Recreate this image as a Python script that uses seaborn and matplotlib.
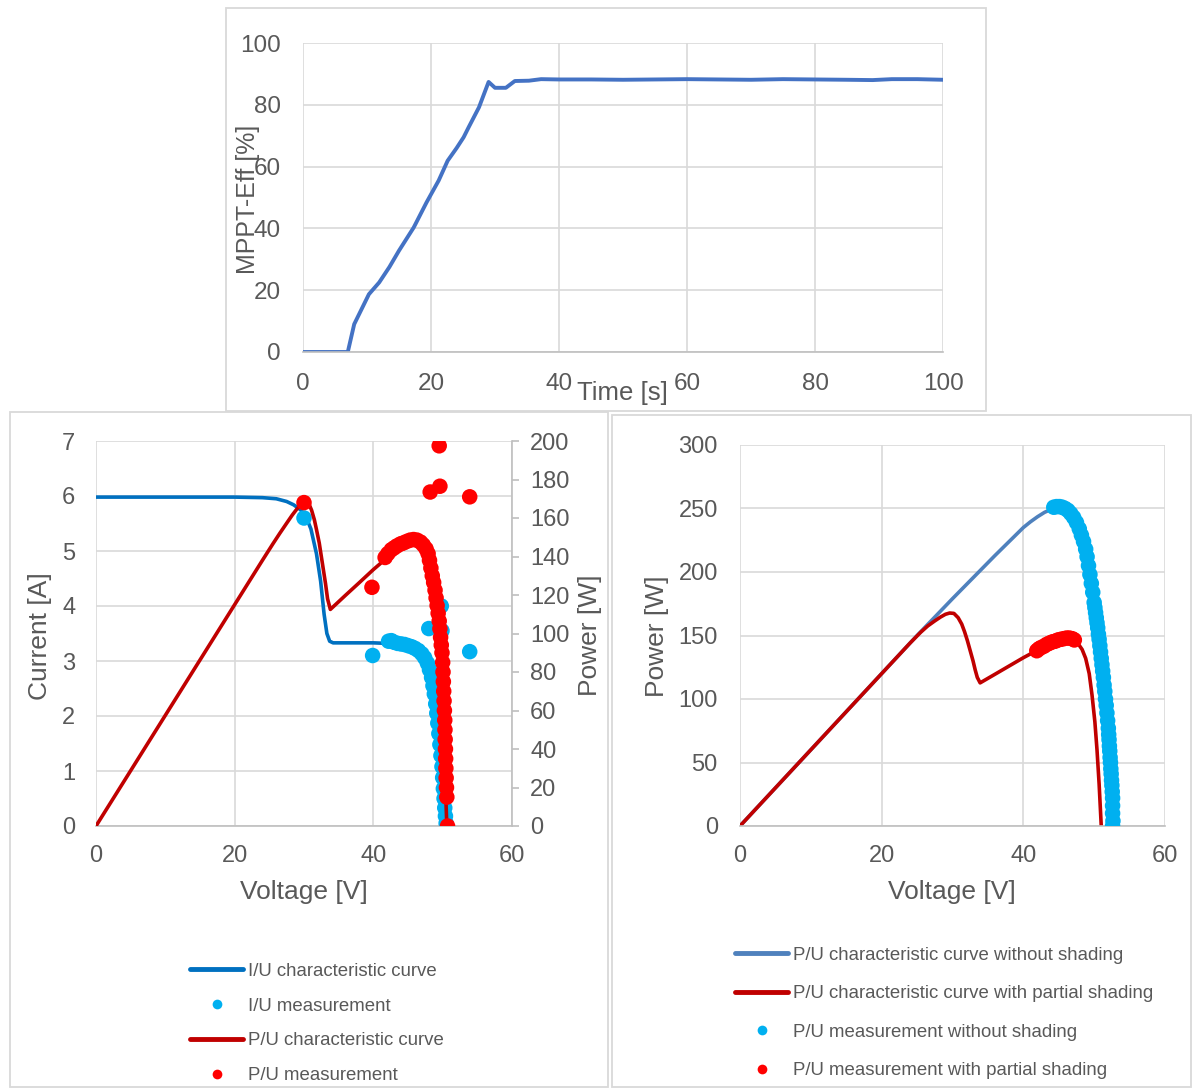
import matplotlib
matplotlib.use('Agg')
import matplotlib.pyplot as plt
from matplotlib.lines import Line2D
from matplotlib.patches import Rectangle
import seaborn as sns

# ---------------- data ----------------
# top: MPPT efficiency over time
time_s = [0, 7, 8, 10.3, 11.9, 13.5, 15, 17.3, 19.3, 21.2, 22.6, 24, 25.1, 25.9, 27.5,
          29, 30, 31.7, 33.1, 35.3, 37.2, 40, 45, 50, 55, 60, 65, 70, 75, 80, 85, 89, 92, 96, 100]
mppt_eff = [0, 0, 9, 18.7, 22.5, 27.5, 32.8, 40.3, 48.4, 55.5, 61.9, 66, 69.5, 72.8, 79.2,
            87.4, 85.5, 85.5, 87.7, 87.8, 88.3, 88.2, 88.2, 88.1, 88.2, 88.3, 88.2, 88.1, 88.3,
            88.2, 88.1, 88.0, 88.3, 88.3, 88.1]

# bottom left: I/U characteristic curve
iu_volt = [0, 10, 20, 24, 26, 27.5, 28.5, 29.5, 30.3, 31, 31.8, 32.4, 32.9, 33.3, 33.7, 34.2,
           36, 40, 42, 43, 44, 45, 46, 47, 47.7, 48.3, 48.8, 49.3, 49.7, 50.1, 50.4, 50.6]
iu_curr = [5.98, 5.98, 5.98, 5.97, 5.95, 5.9, 5.84, 5.75, 5.62, 5.4, 4.95, 4.45, 3.85, 3.5,
           3.36, 3.33, 3.33, 3.33, 3.32, 3.31, 3.29, 3.27, 3.23, 3.13, 2.98, 2.75, 2.45, 2.0,
           1.5, 0.9, 0.4, 0.0]

# bottom left: P/U characteristic curve (right axis)
pu_volt = [0, 10, 20, 24, 25.5, 26.5, 27.5, 28.3, 29, 29.6, 30.1, 30.6, 31.1, 31.5, 31.8,
           32.2, 32.5, 32.8, 33.1, 33.4, 33.8, 36, 38, 40, 42, 44, 45, 46, 47, 47.7, 48.3,
           48.8, 49.3, 49.7, 50.1, 50.4, 50.6]
pu_pow = [0, 57.5, 115, 138, 146.5, 152, 157.3, 161.5, 164.8, 167, 168.5, 168.3, 164,
          159, 154, 147, 140, 133, 126, 118, 112.5, 119.9, 126.5, 133.2, 139.4, 144.8, 147.1,
          148.6, 147.1, 142.1, 132.8, 119.6, 98.6, 74.6, 45.1, 20.2, 0]

# bottom left: I/U measurement
iu_meas_volt = [30.0, 39.9, 48.0, 49.8, 49.9, 53.9,
                42.2, 42.6, 43.0, 43.5, 44.0, 44.5, 45.0, 45.5, 46.0, 46.5, 47.0, 47.4, 47.8,
                48.1, 48.4, 48.6, 48.8, 49.0, 49.15, 49.3, 49.45, 49.6, 49.75, 49.9, 50.0, 50.1,
                50.2, 50.3, 50.4, 50.5]
iu_meas_curr = [5.6, 3.1, 3.59, 4.0, 3.55, 3.17,
                3.36, 3.37, 3.34, 3.32, 3.31, 3.3, 3.28, 3.26, 3.23, 3.19, 3.13, 3.06, 2.96,
                2.84, 2.7, 2.55, 2.4, 2.22, 2.05, 1.87, 1.68, 1.48, 1.28, 1.08, 0.88, 0.68,
                0.5, 0.33, 0.18, 0.05]

# bottom left: P/U measurement
pu_meas_volt = [30.0, 39.8, 48.2, 49.5, 49.6, 53.9,
                41.7, 42.1, 42.6, 43.0, 43.4, 43.9, 44.3, 44.8, 45.3, 45.8, 46.3, 46.8, 47.2,
                47.6, 47.9, 48.1, 48.3, 48.5, 48.7, 48.9, 49.05, 49.2, 49.35, 49.5, 49.6, 49.7,
                49.8, 49.9, 50.0, 50.05, 50.1, 50.15, 50.2, 50.25, 50.3, 50.33, 50.36, 50.4,
                50.43, 50.46, 50.5, 50.55, 50.6, 50.7]
pu_meas_pow = [168, 124, 173.5, 197.5, 176.5, 171,
               139.5, 141.5, 143.5, 144.5, 145.5, 146.5, 147, 147.8, 148.5, 148.8, 148.5,
               147.5, 146, 144, 141.5, 138, 134, 130, 126.5, 122.5, 118.5, 114.5, 110.5, 106.5,
               102.5, 98, 94, 90, 85, 80, 75, 70, 65, 60, 55, 50, 45, 40, 35, 30, 25, 20, 15, 0]

# bottom right: P/U curves
free_volt = [0, 10, 20, 25, 30, 33, 36, 38, 40, 41, 42, 43, 44, 44.5, 45.5, 46.5, 47.5, 48.5,
             49.5, 50.3, 51, 51.6, 52.1, 52.4, 52.5]
free_pow = [0, 60, 120, 150, 179, 196, 213, 224, 235, 239.5, 243.5, 247, 249.5, 250.5, 250,
            247, 240, 227, 207, 185, 150, 115, 75, 35, 0]
shade_volt = [0, 10, 20, 24, 25.5, 26.5, 27.5, 28.3, 29, 29.6, 30.2, 30.8, 31.3, 31.7, 32.1,
              32.5, 32.9, 33.2, 33.5, 33.9, 36, 38, 40, 42, 44, 45, 46, 46.8, 47.3, 47.8,
              48.3, 48.8, 49.3, 49.7, 50.1, 50.4, 50.7, 51]
shade_pow = [0, 60, 120, 144, 152.5, 157.5, 161.5, 164.5, 166.7, 167.7, 167.4, 164, 159,
             153, 146, 138, 130, 123, 117, 112.7, 119.5, 126, 132.5, 138.5, 143.5, 145.5,
             147, 147, 145.4, 143, 139, 132, 120, 103, 82, 60, 33, 0]

# bottom right: P/U measurements
free_meas_volt = [44.3, 44.7, 45.1, 45.5, 45.9, 46.3, 46.7, 47.1, 47.5, 47.9, 48.2, 48.5, 48.8,
                  49.0, 49.2, 49.4, 49.6, 49.8, 50.0, 50.1, 50.2, 50.3, 50.4, 50.5, 50.6, 50.7,
                  50.8, 50.9, 51.0, 51.1, 51.2, 51.3, 51.4, 51.5, 51.6, 51.7, 51.8, 51.9, 52.0,
                  52.05, 52.1, 52.15, 52.2, 52.25, 52.3, 52.35, 52.4, 52.45, 52.5, 52.55,
                  52.6, 52.6, 52.6, 52.65, 52.6]
free_meas_pow = [251, 251.5, 251.5, 251, 250, 248.5, 246, 243, 239, 234, 229, 224, 218,
                 212, 205, 198, 191, 184, 176, 172, 168, 164, 160, 156, 151, 147, 142, 137,
                 132, 127, 122, 117, 111, 106, 100, 95, 89, 83, 77, 72, 68, 63, 59, 54, 50,
                 45, 41, 36, 32, 27, 22, 16, 10, 4, 0]
shade_meas_volt = [41.9, 42.2, 42.5, 42.9, 43.3, 43.7, 44.1, 44.5, 44.9, 45.3, 45.7, 46.1, 46.5,
                   46.9, 47.2]
shade_meas_pow = [138, 139.5, 140.5, 141.5, 143, 144, 145, 145.5, 146.5, 147, 147.5, 148, 148,
                  147.5, 146.5]

# ---------------- style ----------------
sns.set_theme(style='white')
plt.rcParams['font.family'] = ['Liberation Sans', 'DejaVu Sans']
NARROW = ['Liberation Sans Narrow', 'Liberation Sans', 'DejaVu Sans']
TXT = '#595959'
GRID = '#d9d9d9'
W, H = 1192, 1088


def box(x0, y0, x1, y1):
    return [x0 / W, 1 - y1 / H, (x1 - x0) / W, (y1 - y0) / H]


def frame(x0, y0, x1, y1):
    fig.add_artist(Rectangle((x0 / W, 1 - y1 / H), (x1 - x0) / W, (y1 - y0) / H,
                             transform=fig.transFigure, fill=False, ec=GRID, lw=1.3))


def excel_axes(ax):
    ax.grid(True, color=GRID, lw=1.2)
    for s in ['left', 'top', 'right']:
        ax.spines[s].set_visible(False)
    ax.spines['bottom'].set_color('#bfbfbf')
    ax.spines['bottom'].set_linewidth(1.2)


fig = plt.figure(figsize=(11.92, 10.88), dpi=100)
frame(226, 8, 986, 411)
frame(10, 412, 608, 1087)
frame(612, 415, 1191, 1087)

# ---------------- top chart ----------------
ax0 = fig.add_axes(box(303, 43, 943, 352))
sns.lineplot(x=time_s, y=mppt_eff, ax=ax0, color='#4472C4', lw=2.8, sort=False,
             estimator=None)
ax0.set_xlim(0, 100)
ax0.set_ylim(0, 100)
ax0.set_xticks(range(0, 101, 20))
ax0.set_xticklabels([str(v) for v in range(0, 101, 20)], fontfamily=NARROW)
ax0.set_yticks(range(0, 101, 20))
ax0.set_yticklabels([str(v) for v in range(0, 101, 20)], fontfamily=NARROW)
ax0.tick_params(axis='x', length=0, labelsize=17.5, colors=TXT, pad=15)
ax0.tick_params(axis='y', length=0, labelsize=17.5, colors=TXT, pad=16)
excel_axes(ax0)
fig.text(622 / W, 1 - 393 / H, 'Time [s]', ha='center', va='center', fontsize=18.5,
         color=TXT, family=NARROW)
fig.text(248 / W, 1 - 199 / H, 'MPPT-Eff [%]', ha='center', va='center', rotation=90,
         fontsize=18, color=TXT, family=NARROW)

# ---------------- bottom left chart ----------------
axL = fig.add_axes(box(96, 441, 512, 826))
axR = axL.twinx()
sns.lineplot(x=iu_volt, y=iu_curr, ax=axL, color='#0070C0', lw=2.6, sort=False,
             estimator=None, zorder=2)
sns.scatterplot(x=iu_meas_volt, y=iu_meas_curr, ax=axL, color='#00B0F0', s=125,
                edgecolor='none', linewidth=0, zorder=3, legend=False)
sns.lineplot(x=pu_volt, y=pu_pow, ax=axR, color='#C00000', lw=2.6, sort=False,
             estimator=None, zorder=2)
sns.scatterplot(x=pu_meas_volt, y=pu_meas_pow, ax=axR, color='#FF0000', s=125,
                edgecolor='none', linewidth=0, zorder=3, legend=False)
axL.set_xlim(0, 60)
axL.set_ylim(0, 7)
axR.set_ylim(0, 200)
axL.set_xticks(range(0, 61, 20))
axL.set_yticks(range(0, 8))
axR.set_yticks(range(0, 201, 20))
axL.set_xlabel('')
axL.set_ylabel('')
axR.set_ylabel('')
excel_axes(axL)
axR.grid(False)
for s in ['left', 'top', 'bottom']:
    axR.spines[s].set_visible(False)
axR.spines['right'].set_color('#bfbfbf')
axR.spines['right'].set_linewidth(1.2)
axL.tick_params(axis='x', length=0, labelsize=17, colors=TXT, pad=14)
axL.tick_params(axis='y', length=0, labelsize=17, colors=TXT, pad=15)
axR.tick_params(axis='y', length=5, width=1.2, color='#bfbfbf', labelsize=17,
                labelcolor=TXT, pad=8)
fig.text(304 / W, 1 - 892 / H, 'Voltage [V]', ha='center', va='center', fontsize=19,
         color=TXT)
fig.text(40 / W, 1 - 636 / H, 'Current [A]', ha='center', va='center', rotation=90,
         fontsize=19, color=TXT)
fig.text(590 / W, 1 - 635 / H, 'Power [W]', ha='center', va='center', rotation=90,
         fontsize=19, color=TXT)

hl = [Line2D([], [], color='#0070C0', lw=3.5),
      Line2D([], [], color='#00B0F0', ls='none', marker='o', ms=7, mec='none'),
      Line2D([], [], color='#C00000', lw=3.5),
      Line2D([], [], color='#FF0000', ls='none', marker='o', ms=7, mec='none')]
fig.legend(hl, ['I/U characteristic curve', 'I/U measurement', 'P/U characteristic curve',
                'P/U measurement'],
           loc='center left', bbox_to_anchor=(190 / W, 1 - 1023.5 / H), frameon=False,
           fontsize=13.4, labelcolor=TXT, handlelength=2.85, handletextpad=0.27,
           labelspacing=0.95, borderpad=0, borderaxespad=0)

# ---------------- bottom right chart ----------------
axB = fig.add_axes(box(740, 445, 1165, 826))
sns.lineplot(x=free_volt, y=free_pow, ax=axB, color='#4F81BD', lw=2.6, sort=False,
             estimator=None, zorder=2)
sns.lineplot(x=shade_volt, y=shade_pow, ax=axB, color='#C00000', lw=2.6, sort=False,
             estimator=None, zorder=2.5)
sns.scatterplot(x=free_meas_volt, y=free_meas_pow, ax=axB, color='#00B0F0', s=125,
                edgecolor='none', linewidth=0, zorder=3, legend=False)
sns.scatterplot(x=shade_meas_volt, y=shade_meas_pow, ax=axB, color='#FF0000', s=125,
                edgecolor='none', linewidth=0, zorder=4, legend=False)
axB.set_xlim(0, 60)
axB.set_ylim(0, 300)
axB.set_xticks(range(0, 61, 20))
axB.set_yticks(range(0, 301, 50))
axB.set_xlabel('')
axB.set_ylabel('')
excel_axes(axB)
axB.tick_params(axis='x', length=0, labelsize=17, colors=TXT, pad=14)
axB.tick_params(axis='y', length=0, labelsize=17, colors=TXT, pad=16)
fig.text(952 / W, 1 - 892 / H, 'Voltage [V]', ha='center', va='center', fontsize=19,
         color=TXT)
fig.text(657 / W, 1 - 636 / H, 'Power [W]', ha='center', va='center', rotation=90,
         fontsize=19, color=TXT)

hb = [Line2D([], [], color='#4F81BD', lw=3.5),
      Line2D([], [], color='#C00000', lw=3.5),
      Line2D([], [], color='#00B0F0', ls='none', marker='o', ms=7, mec='none'),
      Line2D([], [], color='#FF0000', ls='none', marker='o', ms=7, mec='none')]
fig.legend(hb, ['P/U characteristic curve without shading',
                'P/U characteristic curve with partial shading',
                'P/U measurement without shading', 'P/U measurement with partial shading'],
           loc='center left', bbox_to_anchor=(735 / W, 1 - 1013 / H), frameon=False,
           fontsize=13.4, labelcolor=TXT, handlelength=2.85, handletextpad=0.27,
           labelspacing=1.15, borderpad=0, borderaxespad=0)

fig.savefig('out.png', dpi=100)
